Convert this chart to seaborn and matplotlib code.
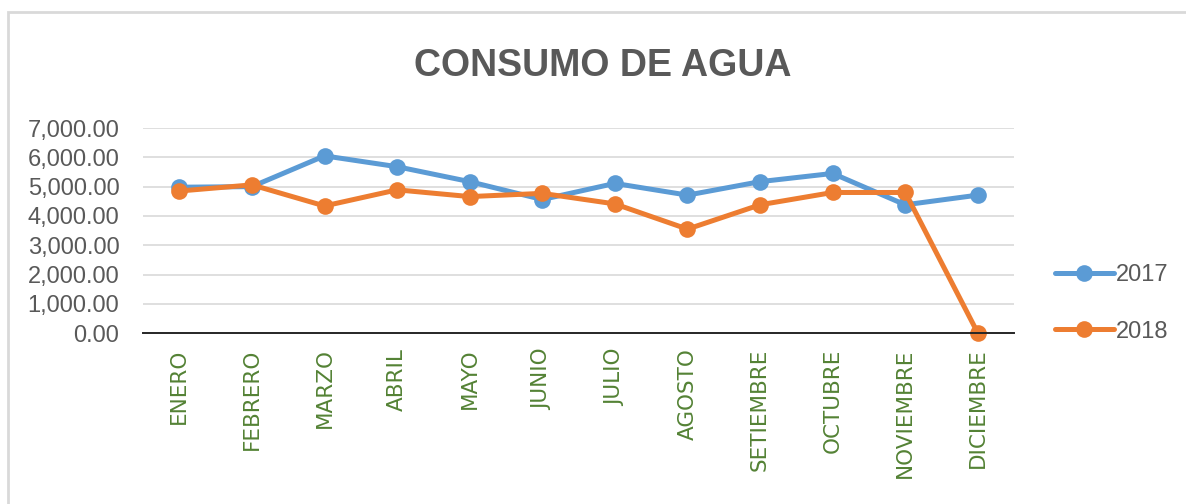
import pandas as pd
import matplotlib.pyplot as plt
import seaborn as sns
from matplotlib.patches import Rectangle
from matplotlib.ticker import FuncFormatter

# Data
meses = ["ENERO", "FEBRERO", "MARZO", "ABRIL", "MAYO", "JUNIO",
         "JULIO", "AGOSTO", "SETIEMBRE", "OCTUBRE", "NOVIEMBRE", "DICIEMBRE"]
consumo_2017 = [4980, 5000, 6050, 5680, 5170, 4560, 5110, 4710, 5170, 5450, 4380, 4710]
consumo_2018 = [4850, 5060, 4340, 4890, 4660, 4770, 4410, 3550, 4380, 4800, 4800, 0]
anios = ["2017", "2018"]
colores = ["#5B9BD5", "#ED7D31"]

df = pd.DataFrame({
    "mes": meses * 2,
    "consumo": consumo_2017 + consumo_2018,
    "anio": [anios[0]] * 12 + [anios[1]] * 12,
})

sns.set_style("white")
plt.rcParams["font.family"] = ["Liberation Sans", "DejaVu Sans"]

fig = plt.figure(figsize=(11.86, 5.04), dpi=100)
ax = fig.add_axes([0.1206, 0.339, 0.7345, 0.407])

sns.lineplot(data=df, x="mes", y="consumo", hue="anio", palette=colores,
             marker="o", markersize=12, markeredgewidth=0, linewidth=3.6,
             sort=False, ax=ax, clip_on=False)

ax.set_xlim(-0.5, 11.5)
ax.set_ylim(0, 7000)
ax.set_yticks(range(0, 7001, 1000))
ax.yaxis.set_major_formatter(FuncFormatter(lambda v, p: f"{v:,.2f}"))
ax.grid(axis="y", color="#D9D9D9", linewidth=1.2)
ax.set_axisbelow(True)
for s in ["top", "right", "left"]:
    ax.spines[s].set_visible(False)
ax.spines["bottom"].set_color("#262626")
ax.spines["bottom"].set_linewidth(1.4)
ax.tick_params(axis="y", length=0, labelsize=17, labelcolor="#595959", pad=17)
ax.tick_params(axis="x", length=0, pad=11)
for lbl in ax.get_xticklabels():
    lbl.set_rotation(90)
    lbl.set_fontfamily("DejaVu Sans")
    lbl.set_fontsize(15.5)
    lbl.set_color("#548235")
    lbl.set_va("top")
ax.set_xlabel("")
ax.set_ylabel("")

fig.text(0.508, 0.87, "CONSUMO DE AGUA", ha="center", va="center",
         fontsize=27, fontweight="bold", color="#595959",
         family=["Liberation Sans Narrow", "Liberation Sans", "DejaVu Sans"])

leg = ax.legend(loc="center left", bbox_to_anchor=(1.022, 0.145), frameon=False,
                fontsize=17, labelspacing=1.45, handlelength=2.5,
                handletextpad=0.1)
for t in leg.get_texts():
    t.set_color("#595959")

fig.patches.append(Rectangle((8 / 1186, -0.1), 1.2, 1 - 12 / 504 + 0.1,
                             transform=fig.transFigure, fill=False,
                             edgecolor="#D9D9D9", linewidth=2))

plt.savefig("out.png", dpi=100)
